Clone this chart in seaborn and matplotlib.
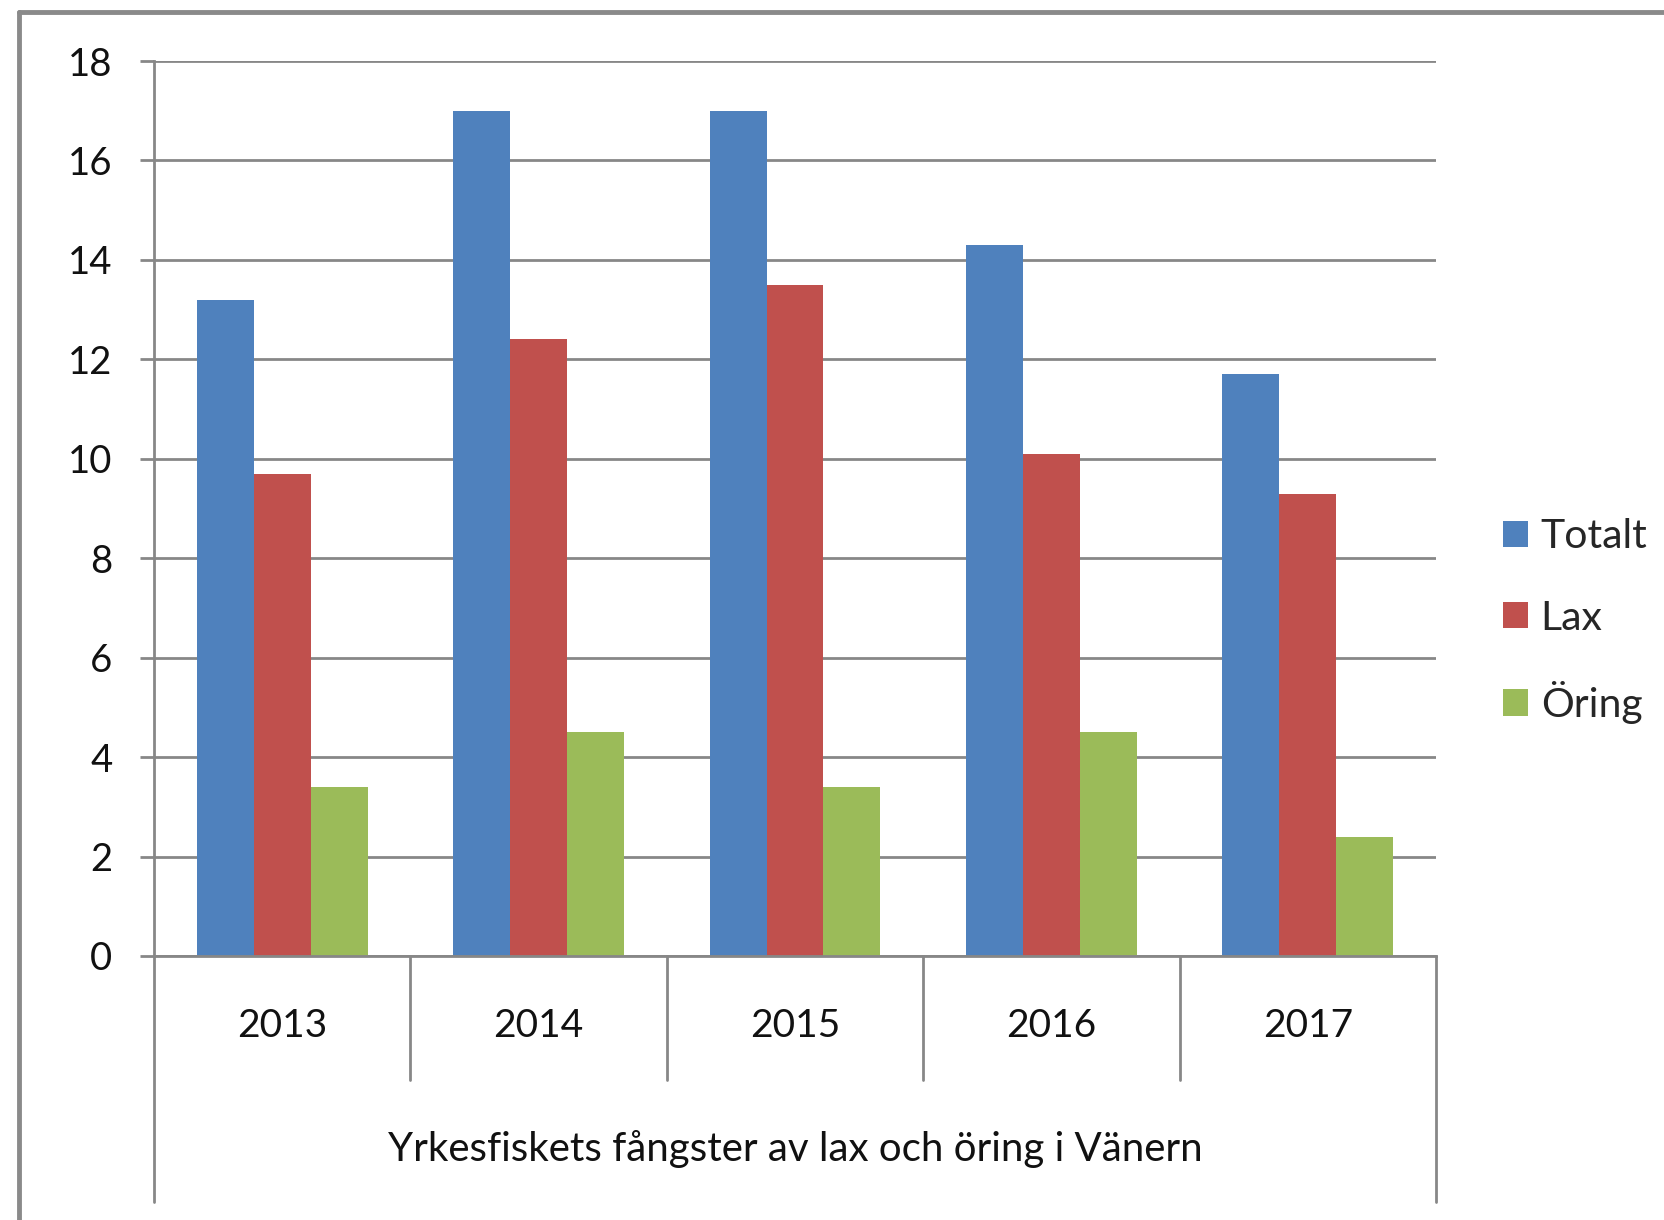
import pandas as pd
import seaborn as sns
import matplotlib.pyplot as plt
from matplotlib.patches import Patch
from matplotlib.lines import Line2D

years = ['2013', '2014', '2015', '2016', '2017']
series = ['Totalt', 'Lax', 'Öring']
totalt = [13.2, 17.0, 17.0, 14.3, 11.7]
lax = [9.7, 12.4, 13.5, 10.1, 9.3]
oring = [3.4, 4.5, 3.4, 4.5, 2.4]
colors = ['#4F81BD', '#C0504D', '#9BBB59']
y_ticks = [0, 2, 4, 6, 8, 10, 12, 14, 16, 18]
axis_title = 'Yrkesfiskets fångster av lax och öring i Vänern'

data = pd.DataFrame({
    'year': years * 3,
    'series': [s for s in series for _ in years],
    'value': totalt + lax + oring,
})

sns.set_theme(style='white')
plt.rcParams['font.family'] = ['Lato', 'DejaVu Sans']

grid_col = '#878787'
text_col = '#111111'
W, H = 1665, 1220
fig = plt.figure(figsize=(W / 100, H / 100), dpi=100)
ax = fig.add_axes([154 / W, 1 - 956 / H, (1436 - 154) / W, (956 - 61) / H])

sns.barplot(data=data, x='year', y='value', hue='series', palette=colors,
            width=2 / 3, gap=0, saturation=1, linewidth=0, ax=ax, legend=False)

ax.set_xlim(-0.5, len(years) - 0.5)
ax.set_ylim(0, 18)
ax.set_yticks(y_ticks)
ax.set_yticklabels([str(t) for t in y_ticks], fontsize=27.5, color=text_col)
ax.yaxis.grid(True, color=grid_col, linewidth=2)
ax.set_axisbelow(True)
ax.tick_params(axis='y', length=10, width=2, color=grid_col, pad=20, left=True)
ax.set_xticks([])
ax.set_xlabel('')
ax.set_ylabel('')
for side in ['top', 'right']:
    ax.spines[side].set_visible(False)
ax.spines['left'].set_color(grid_col)
ax.spines['left'].set_linewidth(2)
ax.spines['bottom'].set_color(grid_col)
ax.spines['bottom'].set_linewidth(2)

# multi-level category axis, Excel style
px = 1 / (956 - 61)
sep_bottom = -(1080 - 956) * px
outer_bottom = -(1202 - 956) * px
trans = ax.get_xaxis_transform()
for i in range(len(years) + 1):
    xb = i - 0.5
    yb = outer_bottom if i in (0, len(years)) else sep_bottom
    ax.plot([xb, xb], [0, yb], color=grid_col, lw=2, transform=trans, clip_on=False)
for i, yr in enumerate(years):
    ax.text(i, -(1026 - 956) * px, yr, transform=trans, ha='center', va='center',
            fontsize=28, color=text_col)
ax.text(2, -(1149 - 956) * px, axis_title, transform=trans, ha='center', va='center',
        fontsize=29, color=text_col)

handles = [Patch(facecolor=c, edgecolor='none') for c in colors]
fig.legend(handles, series, loc='center left', bbox_to_anchor=(1503 / W, 1 - 621 / H),
           frameon=False, fontsize=29.5, handlelength=0.62, handleheight=0.62,
           handletextpad=0.3, labelspacing=1.08, borderaxespad=0, borderpad=0)

# outer chart frame
fig.add_artist(Line2D([19 / W, 19 / W], [0, 1 - 12 / H], color='#8a8a8a', lw=3.5))
fig.add_artist(Line2D([19 / W, 1], [1 - 12 / H, 1 - 12 / H], color='#8a8a8a', lw=3.5))

fig.savefig('out.png', dpi=100)
